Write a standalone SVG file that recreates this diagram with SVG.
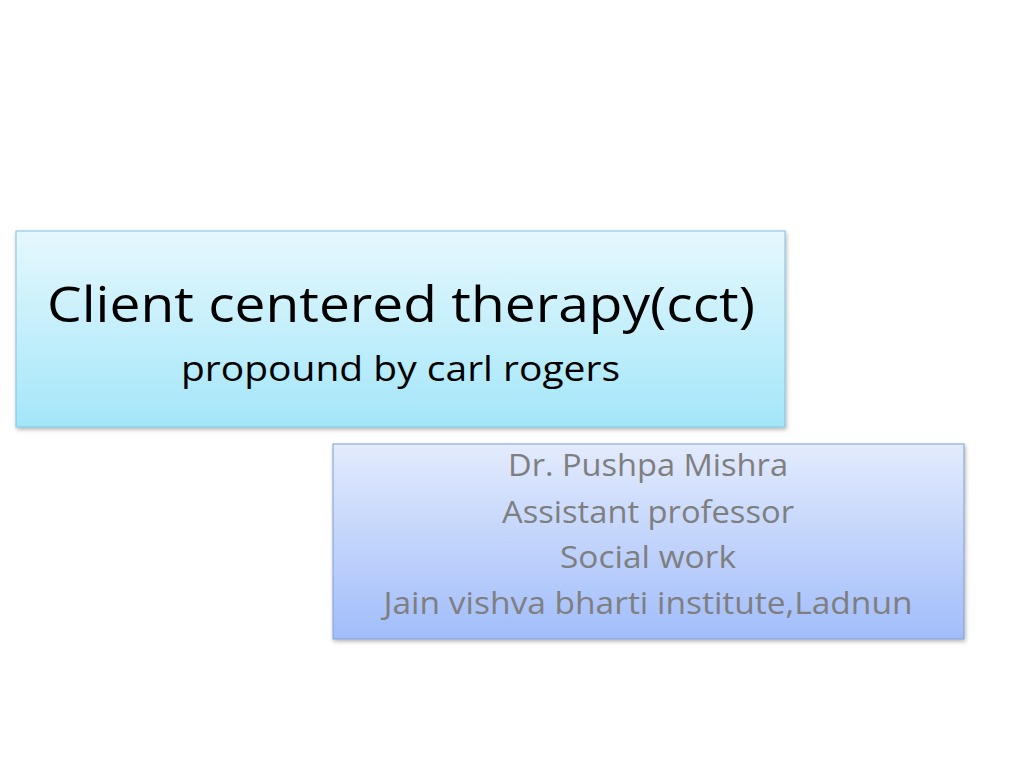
<svg xmlns="http://www.w3.org/2000/svg" width="1024" height="768" viewBox="0 0 1024 768">
<defs>
<linearGradient id="g1" x1="0" y1="0" x2="0" y2="1"><stop offset="0" stop-color="#e6f8fd"/><stop offset="1" stop-color="#a3e6f9"/></linearGradient>
<linearGradient id="g2" x1="0" y1="0" x2="0" y2="1"><stop offset="0" stop-color="#e3ebfd"/><stop offset="1" stop-color="#a1bdfa"/></linearGradient>
<filter id="sh" x="-5%" y="-5%" width="110%" height="115%"><feDropShadow dx="1" dy="2" stdDeviation="2" flood-opacity="0.3"/></filter>
</defs>
<rect width="1024" height="768" fill="#fff"/>
<g id="title" font-family="Open Sans, Liberation Sans, sans-serif" fill="#000">
<rect x="16" y="231" width="769" height="196" fill="url(#g1)" stroke="#7fc4d9" filter="url(#sh)"/>
<text x="47" y="322" font-size="50" textLength="708" lengthAdjust="spacingAndGlyphs">Client centered therapy(cct)</text>
<text x="181" y="381" font-size="34" textLength="439" lengthAdjust="spacingAndGlyphs">propound by carl rogers</text>
</g>
<g id="author" font-family="Open Sans, Liberation Sans, sans-serif" font-size="31" fill="#7f7f7f" text-anchor="middle">
<rect x="333" y="444" width="631" height="195" fill="url(#g2)" stroke="#7f9fd0" filter="url(#sh)"/>
<text x="648" y="476" textLength="280" lengthAdjust="spacingAndGlyphs">Dr. Pushpa Mishra</text>
<text x="648" y="523" textLength="292" lengthAdjust="spacingAndGlyphs">Assistant professor</text>
<text x="648" y="568" textLength="176" lengthAdjust="spacingAndGlyphs">Social work</text>
<text x="648" y="614" textLength="529" lengthAdjust="spacingAndGlyphs">Jain vishva bharti institute,Ladnun</text>
</g>
</svg>
